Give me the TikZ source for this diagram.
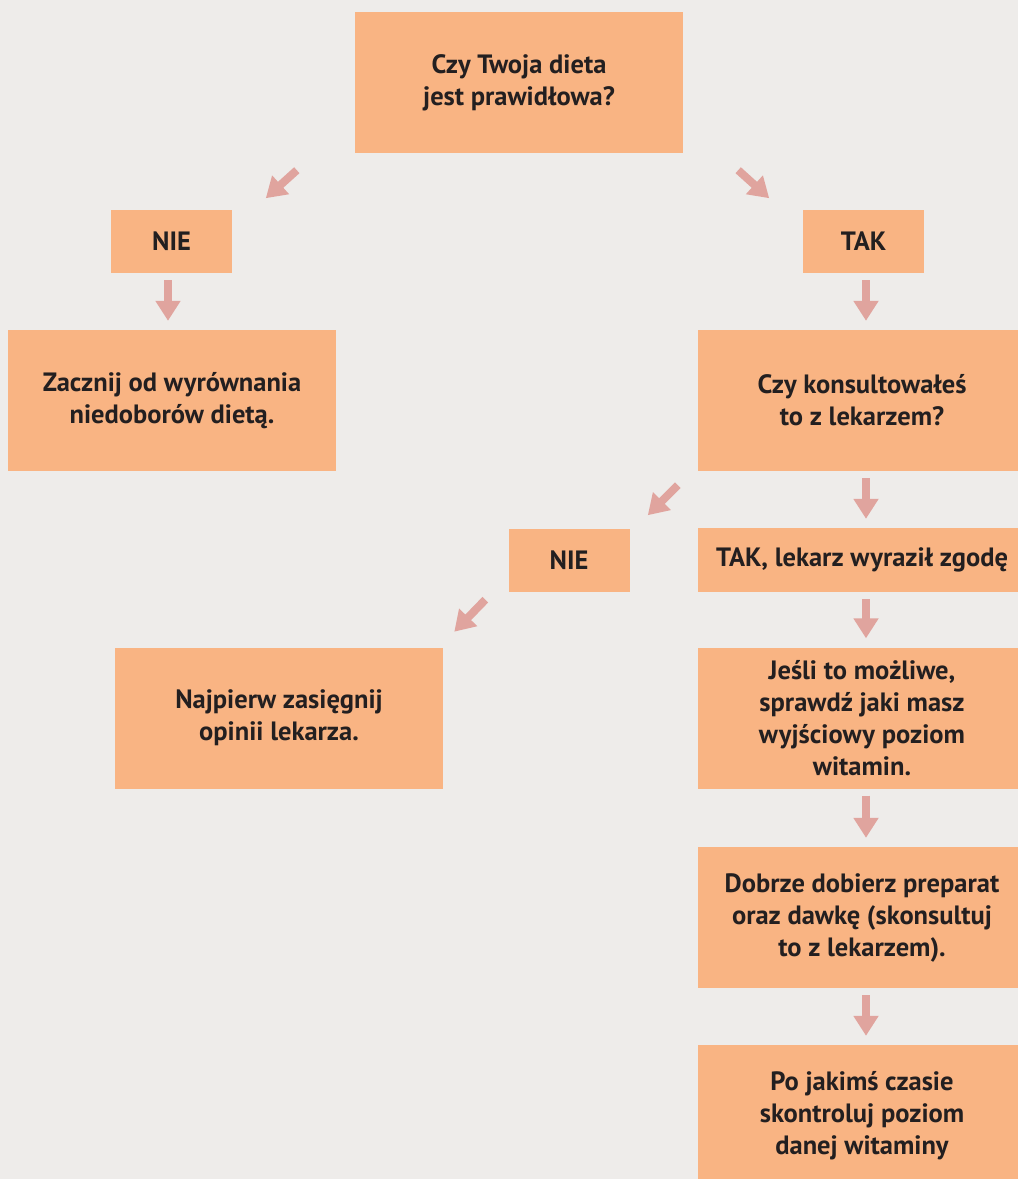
\documentclass[tikz,border=0pt]{standalone}
\usepackage{fontspec}
\setmainfont{PT Sans}
\usepackage{xcolor}
\usetikzlibrary{arrows.meta, calc}
\definecolor{tlo}{RGB}{238,236,234}
\definecolor{pole}{RGB}{249,180,131}
\definecolor{strzalka}{RGB}{224,164,158}
\definecolor{tekst}{RGB}{35,31,32}

\begin{document}
\begin{tikzpicture}[x=1pt, y=1pt,
    pole/.style={fill=pole, text=tekst, align=center, inner sep=0pt,
        font=\fontsize{26.5}{32}\selectfont\bfseries},
    duze/.style={pole, minimum width=328pt, minimum height=141pt},
    male/.style={pole, minimum width=121pt, minimum height=63pt},
    pasek/.style={pole, minimum width=328pt, minimum height=64pt},
    arr/.style={draw=strzalka, line width=8pt,
        -{Triangle[width=24pt, length=20pt]}},
    dol/.style={arr, shorten <=7pt, shorten >=9pt}]
                        \clip (0, 0) rectangle (1018, -1179);
                        \fill[tlo] (0, 0) rectangle (1018, -1179);
                        % pytanie o diete
                        \node[duze] (dieta) at (519, -82.5) {Czy Twoja dieta\\jest prawidłowa?};
                        \node[male] (nie1) at (171.5, -241.5) {NIE};
                        \node[male] (tak1) at (863.5, -241.5) {TAK};
                        \node[duze] (zacznij) at (172, -400.5) {Zacznij od wyrównania\\niedoborów dietą.};
                        \node[duze] (lekarz) at (862, -400.5) {Czy konsultowałeś\\to z lekarzem?};
                        % druga decyzja
                        \node[male] (nie2) at (569, -560) {NIE};
                        \node[pasek] (tak2) at (862, -560) {TAK, lekarz wyraził zgodę};
                        \node[duze] (najpierw) at (279, -718) {Najpierw zasięgnij\\opinii lekarza.};
                        \node[duze] (poziom) at (862, -718) {Jeśli to możliwe,\\sprawdź jaki masz\\wyjściowy poziom\\witamin.};
                        \node[duze] (dawka) at (862, -917.5) {Dobrze dobierz preparat\\oraz dawkę (skonsultuj\\to z lekarzem).};
                        \node[duze] (kontrola) at (862, -1115.5) {Po jakimś czasie\\skontroluj poziom\\danej witaminy};
                        % strzalki
                        \draw[arr] ([shift={(-58, -17)}]dieta.south west) -- ++(-31, -28);
                        \draw[arr] ([shift={(55, -17)}]dieta.south east) -- ++(31, -28);
                        \draw[dol] ([xshift=-3.5pt]nie1.south) -- ([xshift=-3.5pt]nie1.south |- zacznij.north);
                        \draw[dol] ([xshift=2.5pt]tak1.south) -- ([xshift=2.5pt]tak1.south |- lekarz.north);
                        \draw[arr] ([shift={(-20, -14)}]lekarz.south west) -- ++(-30, -30);
                        \draw[dol] ([xshift=4pt]lekarz.south) -- ([xshift=4pt]lekarz.south |- tak2.north);
                        \draw[arr] ([shift={(-23, -8)}]nie2.south west) -- ++(-31, -32);
                        \draw[dol] ([xshift=4pt]tak2.south) -- ([xshift=4pt]tak2.south |- poziom.north);
                        \draw[dol] ([xshift=4pt]poziom.south) -- ([xshift=4pt]poziom.south |- dawka.north);
                        \draw[dol] ([xshift=4pt]dawka.south) -- ([xshift=4pt]dawka.south |- kontrola.north);
                    \end{tikzpicture}
\end{document}
